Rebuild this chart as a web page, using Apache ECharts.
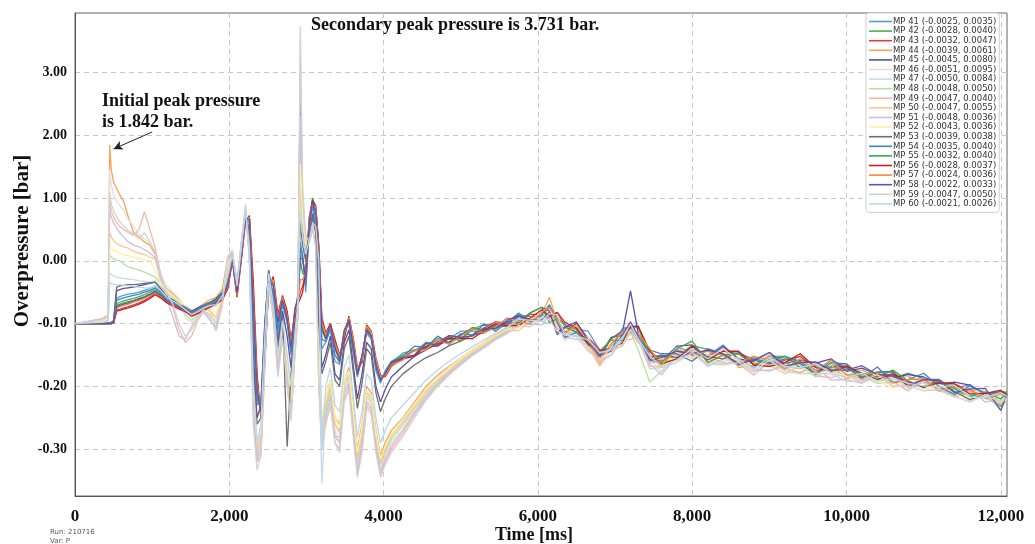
<!DOCTYPE html>
<html>
<head>
<meta charset="utf-8">
<script src="https://cdn.jsdelivr.net/npm/echarts@6/dist/echarts.min.js"></script>
<style>
  html, body { margin: 0; padding: 0; background: #fff; }
  #main { width: 1035px; height: 544px; }
</style>
</head>
<body>
<div id="main"></div>
<script>
// time stamps shared by every gauge (ms)
const timeMs = [
  0, 350, 430, 450, 470, 500, 540, 580, 630, 690, 760, 830, 900, 970, 1040, 1110, 1190, 1270, 1350, 1430, 1510, 1590, 1670, 1750, 1830, 1910, 1980,
  2040, 2100, 2160, 2210, 2260, 2310, 2360, 2410, 2460, 2510, 2570, 2630, 2690, 2750, 2800, 2850, 2890, 2920, 2950, 2990,
  3040, 3080, 3120, 3160, 3200, 3250, 3310, 3370, 3430, 3490, 3550, 3610, 3660, 3720, 3780, 3840, 3900, 3960, 4020, 4100,
  4250, 4400, 4550, 4700, 4850, 5000, 5150, 5300, 5450, 5600, 5750, 5900, 6050, 6150, 6250, 6350, 6500, 6650, 6800, 6950,
  7100, 7200, 7300, 7450, 7600, 7800, 8000, 8200, 8400, 8600, 8800, 9000, 9200, 9400, 9600, 9800, 10000, 10200, 10400, 10600,
  10800, 11000, 11200, 11400, 11600, 11800, 12000, 12080
];

const xTicks = [0, 2000, 4000, 6000, 8000, 10000, 12000];
// the original axis is stretched below zero: 0.1 bar per grid step there, 1 bar per step above
const yTicks = [3, 2, 1, 0, -0.1, -0.2, -0.3];

const gaugeNames = [
  'MP 41 (-0.0025, 0.0035)', 'MP 42 (-0.0028, 0.0040)', 'MP 43 (-0.0032, 0.0047)', 'MP 44 (-0.0039, 0.0061)',
  'MP 45 (-0.0045, 0.0080)', 'MP 46 (-0.0051, 0.0095)', 'MP 47 (-0.0050, 0.0084)', 'MP 48 (-0.0048, 0.0050)',
  'MP 49 (-0.0047, 0.0040)', 'MP 50 (-0.0047, 0.0055)', 'MP 51 (-0.0048, 0.0036)', 'MP 52 (-0.0043, 0.0036)',
  'MP 53 (-0.0039, 0.0038)', 'MP 54 (-0.0035, 0.0040)', 'MP 55 (-0.0032, 0.0040)', 'MP 56 (-0.0028, 0.0037)',
  'MP 57 (-0.0024, 0.0036)', 'MP 58 (-0.0022, 0.0033)', 'MP 59 (-0.0047, 0.0050)', 'MP 60 (-0.0021, 0.0026)'
];
const gaugeColors = [
  '#5b9bd5', '#4caf50', '#e0403a', '#f5a55a', '#5c4d9e', '#e6dfdf', '#c5dcee', '#b8e0a0', '#f4b8aa', '#fcc890',
  '#cdbde3', '#fff0a0', '#6e6e6e', '#3d85c6', '#3aa84a', '#c81e1e', '#f08c3a', '#6b4fa8', '#d2d2d2', '#b9d7ef'
];

// overpressure in bar
const mp41 = [
  -0.100, -0.100, -0.100, -0.100, -0.099, -0.097, -0.060, -0.057, -0.055, -0.053, -0.052, -0.050, -0.047, -0.044, -0.040, -0.048, -0.058, -0.064, -0.070, -0.074, -0.082, -0.077, -0.072, -0.067, -0.062, -0.052, -0.030,
  0.050, -0.045, 0.180, 0.750, 0.400, -0.130, -0.230, -0.220, -0.100, -0.020, -0.060, -0.120, -0.070, -0.100, -0.150, -0.085, -0.055, 0.300, 0.100, -0.050, 0.550, 0.880, 0.500, -0.050, -0.140, -0.130, -0.110, -0.160, -0.165, -0.115, -0.100, -0.150, -0.185, -0.155, -0.115, -0.125, -0.175, -0.195, -0.175, -0.160,
  -0.150, -0.144, -0.130, -0.132, -0.124, -0.112, -0.112, -0.113, -0.105, -0.092, -0.093, -0.097, -0.088, -0.075, -0.093, -0.120, -0.109, -0.112, -0.142, -0.139, -0.129, -0.107, -0.106, -0.150, -0.168, -0.137, -0.146, -0.151, -0.134, -0.158, -0.170, -0.152, -0.152, -0.163, -0.181, -0.166, -0.166, -0.186, -0.178, -0.178, -0.197, -0.200, -0.190, -0.203, -0.197, -0.215, -0.224, -0.212
];
const mp42 = [
  -0.100, -0.100, -0.100, -0.100, -0.100, -0.098, -0.068, -0.066, -0.064, -0.062, -0.060, -0.057, -0.054, -0.050, -0.046, -0.052, -0.062, -0.067, -0.072, -0.077, -0.085, -0.079, -0.074, -0.069, -0.064, -0.056, -0.035,
  0.030, -0.050, 0.120, 0.720, 0.620, -0.080, -0.210, -0.240, -0.130, -0.030, -0.040, -0.100, -0.060, -0.095, -0.140, -0.075, -0.060, 0.100, 0.050, -0.030, 0.650, 0.980, 0.800, 0.100, -0.110, -0.125, -0.100, -0.140, -0.160, -0.110, -0.095, -0.140, -0.180, -0.150, -0.110, -0.120, -0.165, -0.190, -0.180, -0.162,
  -0.147, -0.142, -0.137, -0.124, -0.125, -0.124, -0.110, -0.101, -0.103, -0.102, -0.086, -0.089, -0.091, -0.084, -0.084, -0.108, -0.113, -0.123, -0.152, -0.122, -0.117, -0.115, -0.117, -0.144, -0.158, -0.151, -0.135, -0.141, -0.150, -0.164, -0.154, -0.162, -0.163, -0.152, -0.169, -0.174, -0.183, -0.174, -0.187, -0.187, -0.179, -0.188, -0.206, -0.200, -0.216, -0.211, -0.232, -0.214
];
const mp43 = [
  -0.100, -0.100, -0.100, -0.100, -0.100, -0.099, -0.078, -0.077, -0.075, -0.073, -0.070, -0.067, -0.063, -0.058, -0.052, -0.057, -0.065, -0.070, -0.075, -0.079, -0.086, -0.082, -0.077, -0.072, -0.067, -0.060, -0.042,
  0.010, -0.055, 0.080, 0.650, 0.700, -0.050, -0.190, -0.250, -0.150, -0.040, -0.030, -0.090, -0.060, -0.085, -0.130, -0.085, -0.065, -0.050, -0.040, -0.020, 0.700, 0.950, 0.850, 0.200, -0.100, -0.120, -0.105, -0.130, -0.155, -0.120, -0.090, -0.130, -0.175, -0.160, -0.105, -0.115, -0.160, -0.185, -0.182, -0.165,
  -0.155, -0.142, -0.140, -0.129, -0.119, -0.122, -0.119, -0.107, -0.097, -0.100, -0.099, -0.085, -0.086, -0.090, -0.086, -0.102, -0.111, -0.122, -0.141, -0.142, -0.121, -0.101, -0.122, -0.152, -0.152, -0.154, -0.141, -0.156, -0.144, -0.148, -0.163, -0.168, -0.158, -0.152, -0.175, -0.168, -0.168, -0.189, -0.181, -0.184, -0.184, -0.194, -0.196, -0.196, -0.208, -0.214, -0.210, -0.211
];
const mp44 = [
  -0.100, -0.095, -0.088, 1.842, 1.450, 1.250, 1.150, 1.050, 0.950, 0.700, 0.450, 0.380, 0.300, 0.250, 0.100, -0.030, -0.045, -0.052, -0.062, -0.075, -0.082, -0.076, -0.068, -0.062, -0.058, -0.045, 0.060,
  0.150, -0.040, 0.350, 0.820, 0.150, -0.200, -0.300, -0.280, -0.140, -0.025, -0.070, -0.150, -0.100, -0.170, -0.220, -0.120, -0.070, 2.040, 0.900, 0.300, 0.400, 0.650, 0.300, -0.150, -0.250, -0.220, -0.190, -0.250, -0.260, -0.190, -0.170, -0.240, -0.300, -0.260, -0.200, -0.210, -0.270, -0.310, -0.290, -0.270,
  -0.250, -0.225, -0.200, -0.182, -0.168, -0.155, -0.142, -0.130, -0.118, -0.108, -0.100, -0.093, -0.084, -0.058, -0.098, -0.124, -0.099, -0.130, -0.166, -0.136, -0.109, -0.111, -0.130, -0.150, -0.170, -0.140, -0.152, -0.154, -0.138, -0.170, -0.166, -0.150, -0.172, -0.178, -0.167, -0.172, -0.188, -0.179, -0.185, -0.180, -0.201, -0.191, -0.202, -0.215, -0.206, -0.208, -0.222, -0.214
];
const mp45 = [
  -0.100, -0.100, -0.099, -0.099, -0.098, -0.096, -0.048, -0.046, -0.044, -0.043, -0.042, -0.040, -0.038, -0.036, -0.034, -0.044, -0.056, -0.062, -0.068, -0.072, -0.080, -0.075, -0.070, -0.066, -0.060, -0.050, -0.028,
  0.060, -0.045, 0.200, 0.780, 0.350, -0.150, -0.250, -0.230, -0.100, -0.015, -0.065, -0.130, -0.080, -0.120, -0.170, -0.100, -0.050, 3.000, 0.600, 0.050, 0.450, 0.750, 0.400, -0.080, -0.170, -0.150, -0.120, -0.180, -0.190, -0.130, -0.110, -0.170, -0.220, -0.180, -0.130, -0.140, -0.200, -0.225, -0.205, -0.185,
  -0.168, -0.152, -0.142, -0.132, -0.129, -0.118, -0.107, -0.110, -0.108, -0.098, -0.089, -0.093, -0.085, -0.072, -0.092, -0.114, -0.099, -0.124, -0.154, -0.124, -0.111, -0.048, -0.115, -0.154, -0.160, -0.136, -0.134, -0.154, -0.136, -0.156, -0.160, -0.146, -0.164, -0.158, -0.163, -0.156, -0.176, -0.171, -0.181, -0.186, -0.181, -0.185, -0.196, -0.193, -0.198, -0.213, -0.222, -0.214
];
const mp46 = [
  -0.100, -0.094, -0.090, 1.450, 1.200, 1.050, 0.950, 0.880, 0.800, 0.650, 0.550, 0.420, 0.350, 0.280, 0.150, -0.025, -0.040, -0.050, -0.060, -0.090, -0.100, -0.085, -0.070, -0.080, -0.095, -0.060, 0.080,
  0.120, -0.030, 0.300, 0.850, 0.100, -0.230, -0.320, -0.300, -0.160, -0.030, -0.080, -0.170, -0.110, -0.190, -0.230, -0.140, -0.080, 1.900, 0.800, 0.250, 0.350, 0.500, 0.250, -0.180, -0.280, -0.240, -0.210, -0.270, -0.290, -0.210, -0.190, -0.260, -0.330, -0.290, -0.220, -0.230, -0.290, -0.335, -0.310, -0.290,
  -0.268, -0.240, -0.215, -0.195, -0.178, -0.162, -0.148, -0.136, -0.122, -0.111, -0.101, -0.099, -0.090, -0.084, -0.104, -0.128, -0.109, -0.134, -0.156, -0.148, -0.125, -0.107, -0.128, -0.156, -0.178, -0.148, -0.150, -0.166, -0.148, -0.162, -0.178, -0.162, -0.174, -0.162, -0.185, -0.174, -0.178, -0.193, -0.183, -0.196, -0.191, -0.203, -0.207, -0.208, -0.223, -0.215, -0.224, -0.218
];
const mp47 = [
  -0.100, -0.097, -0.094, -0.020, -0.022, -0.024, -0.026, -0.027, -0.028, -0.029, -0.030, -0.032, -0.033, -0.034, -0.032, -0.040, -0.052, -0.058, -0.066, -0.076, -0.084, -0.080, -0.074, -0.070, -0.072, -0.055, -0.020,
  0.100, -0.035, 0.250, 0.800, 0.200, -0.200, -0.300, -0.270, -0.130, -0.020, -0.070, -0.160, -0.100, -0.160, -0.210, -0.120, -0.070, 3.550, 1.000, 0.300, 0.300, 0.550, 0.350, -0.150, -0.355, -0.230, -0.200, -0.260, -0.270, -0.190, -0.175, -0.250, -0.310, -0.270, -0.210, -0.215, -0.280, -0.320, -0.300, -0.280,
  -0.255, -0.230, -0.205, -0.186, -0.170, -0.156, -0.144, -0.132, -0.120, -0.110, -0.095, -0.097, -0.080, -0.074, -0.098, -0.122, -0.105, -0.132, -0.150, -0.140, -0.131, -0.103, -0.122, -0.162, -0.162, -0.138, -0.150, -0.156, -0.160, -0.154, -0.152, -0.164, -0.174, -0.162, -0.165, -0.176, -0.183, -0.177, -0.189, -0.190, -0.183, -0.195, -0.201, -0.214, -0.200, -0.215, -0.216, -0.214
];
const mp48 = [
  -0.100, -0.096, -0.092, 0.100, 0.060, 0.030, 0.010, 0.000, -0.005, -0.010, -0.012, -0.015, -0.018, -0.022, -0.026, -0.036, -0.050, -0.058, -0.068, -0.085, -0.095, -0.088, -0.080, -0.085, -0.100, -0.070, -0.010,
  0.080, -0.040, 0.280, 0.750, 0.150, -0.220, -0.310, -0.290, -0.140, -0.030, -0.080, -0.170, -0.110, -0.180, -0.240, -0.130, -0.075, 1.100, 0.600, 0.200, 0.350, 0.600, 0.300, -0.160, -0.270, -0.240, -0.200, -0.280, -0.280, -0.200, -0.185, -0.260, -0.320, -0.280, -0.215, -0.225, -0.285, -0.325, -0.305, -0.285,
  -0.262, -0.236, -0.212, -0.192, -0.176, -0.160, -0.146, -0.134, -0.122, -0.112, -0.103, -0.093, -0.096, -0.100, -0.094, -0.118, -0.119, -0.128, -0.148, -0.144, -0.135, -0.113, -0.142, -0.193, -0.176, -0.150, -0.140, -0.160, -0.164, -0.158, -0.172, -0.176, -0.164, -0.168, -0.185, -0.166, -0.186, -0.183, -0.195, -0.194, -0.191, -0.201, -0.200, -0.215, -0.212, -0.213, -0.238, -0.220
];
const mp49 = [
  -0.100, -0.092, -0.086, 0.950, 0.800, 0.700, 0.600, 0.550, 0.500, 0.450, 0.400, 0.500, 0.780, 0.500, 0.200, -0.020, -0.050, -0.075, -0.110, -0.130, -0.120, -0.095, -0.080, -0.090, -0.110, -0.070, 0.030,
  0.130, -0.035, 0.320, 0.800, 0.050, -0.240, -0.320, -0.310, -0.170, -0.040, -0.090, -0.180, -0.120, -0.200, -0.250, -0.150, -0.090, 1.400, 0.700, 0.250, 0.300, 0.500, 0.250, -0.200, -0.300, -0.260, -0.230, -0.290, -0.300, -0.220, -0.200, -0.280, -0.340, -0.300, -0.230, -0.240, -0.300, -0.340, -0.320, -0.300,
  -0.275, -0.245, -0.220, -0.198, -0.180, -0.165, -0.150, -0.138, -0.125, -0.115, -0.105, -0.095, -0.084, -0.092, -0.108, -0.114, -0.115, -0.140, -0.160, -0.134, -0.127, -0.125, -0.120, -0.162, -0.160, -0.158, -0.148, -0.152, -0.162, -0.164, -0.182, -0.160, -0.170, -0.160, -0.183, -0.186, -0.180, -0.189, -0.179, -0.200, -0.197, -0.187, -0.206, -0.217, -0.208, -0.219, -0.228, -0.216
];
const mp50 = [
  -0.100, -0.095, -0.090, 0.450, 0.380, 0.320, 0.280, 0.250, 0.220, 0.200, 0.150, 0.120, 0.100, 0.060, 0.020, -0.030, -0.045, -0.055, -0.065, -0.078, -0.090, -0.084, -0.076, -0.080, -0.090, -0.060, 0.000,
  0.090, -0.040, 0.260, 0.780, 0.180, -0.210, -0.300, -0.280, -0.150, -0.030, -0.075, -0.160, -0.105, -0.170, -0.230, -0.130, -0.075, 1.700, 0.750, 0.280, 0.380, 0.620, 0.320, -0.150, -0.260, -0.230, -0.195, -0.260, -0.275, -0.195, -0.180, -0.250, -0.315, -0.275, -0.210, -0.220, -0.280, -0.320, -0.300, -0.280,
  -0.258, -0.232, -0.208, -0.190, -0.174, -0.158, -0.145, -0.133, -0.121, -0.111, -0.111, -0.097, -0.086, -0.078, -0.102, -0.116, -0.103, -0.136, -0.168, -0.142, -0.119, -0.101, -0.126, -0.168, -0.168, -0.144, -0.156, -0.150, -0.152, -0.168, -0.162, -0.166, -0.180, -0.166, -0.165, -0.178, -0.183, -0.193, -0.185, -0.186, -0.203, -0.193, -0.190, -0.209, -0.222, -0.213, -0.226, -0.218
];
const mp51 = [
  -0.100, -0.093, -0.088, 0.800, 0.700, 0.600, 0.520, 0.450, 0.380, 0.300, 0.250, 0.220, 0.180, 0.120, 0.050, -0.028, -0.060, -0.090, -0.120, -0.125, -0.105, -0.090, -0.082, -0.095, -0.105, -0.065, 0.020,
  0.110, -0.040, 0.300, 0.820, 0.080, -0.230, -0.315, -0.300, -0.160, -0.035, -0.085, -0.175, -0.115, -0.190, -0.245, -0.145, -0.085, 2.300, 0.850, 0.300, 0.320, 0.520, 0.280, -0.170, -0.285, -0.250, -0.215, -0.280, -0.290, -0.210, -0.195, -0.270, -0.335, -0.290, -0.225, -0.235, -0.295, -0.335, -0.315, -0.295,
  -0.270, -0.242, -0.216, -0.196, -0.178, -0.163, -0.149, -0.137, -0.124, -0.114, -0.099, -0.101, -0.102, -0.086, -0.092, -0.122, -0.125, -0.128, -0.162, -0.150, -0.125, -0.117, -0.116, -0.164, -0.182, -0.152, -0.144, -0.168, -0.156, -0.156, -0.174, -0.174, -0.168, -0.172, -0.168, -0.190, -0.189, -0.195, -0.181, -0.192, -0.207, -0.189, -0.208, -0.209, -0.204, -0.225, -0.220, -0.220
];
const mp52 = [
  -0.100, -0.096, -0.092, 0.250, 0.200, 0.170, 0.140, 0.120, 0.100, 0.080, 0.060, 0.040, 0.020, 0.000, -0.015, -0.035, -0.048, -0.056, -0.064, -0.072, -0.082, -0.080, -0.074, -0.076, -0.082, -0.058, -0.005,
  0.080, -0.040, 0.240, 0.760, 0.200, -0.200, -0.290, -0.270, -0.140, -0.025, -0.070, -0.150, -0.100, -0.160, -0.220, -0.125, -0.070, 1.550, 0.700, 0.250, 0.400, 0.650, 0.350, -0.140, -0.250, -0.220, -0.190, -0.250, -0.265, -0.190, -0.175, -0.245, -0.305, -0.265, -0.205, -0.215, -0.275, -0.315, -0.295, -0.275,
  -0.252, -0.228, -0.204, -0.186, -0.170, -0.156, -0.143, -0.131, -0.119, -0.109, -0.109, -0.091, -0.092, -0.080, -0.086, -0.109, -0.115, -0.122, -0.156, -0.146, -0.121, -0.103, -0.124, -0.154, -0.156, -0.156, -0.146, -0.164, -0.146, -0.160, -0.172, -0.156, -0.156, -0.168, -0.180, -0.176, -0.184, -0.175, -0.190, -0.203, -0.191, -0.204, -0.197, -0.210, -0.221, -0.211, -0.222, -0.214
];
const mp53 = [
  -0.100, -0.100, -0.099, -0.099, -0.098, -0.095, -0.042, -0.040, -0.039, -0.038, -0.038, -0.037, -0.036, -0.035, -0.034, -0.045, -0.058, -0.064, -0.070, -0.074, -0.081, -0.077, -0.071, -0.066, -0.061, -0.052, -0.032,
  0.070, -0.040, 0.220, 0.800, 0.300, -0.170, -0.260, -0.250, -0.110, -0.015, -0.070, -0.140, -0.085, -0.296, -0.180, -0.105, -0.060, 0.600, 0.250, 0.000, 0.400, 0.700, 0.450, -0.100, -0.180, -0.160, -0.130, -0.190, -0.200, -0.140, -0.120, -0.180, -0.235, -0.195, -0.140, -0.150, -0.210, -0.240, -0.220, -0.200,
  -0.180, -0.166, -0.154, -0.146, -0.135, -0.128, -0.118, -0.115, -0.104, -0.097, -0.099, -0.083, -0.074, -0.080, -0.118, -0.105, -0.114, -0.132, -0.152, -0.122, -0.119, -0.101, -0.122, -0.154, -0.150, -0.154, -0.146, -0.152, -0.156, -0.146, -0.158, -0.164, -0.156, -0.164, -0.181, -0.162, -0.164, -0.185, -0.177, -0.176, -0.199, -0.189, -0.189, -0.208, -0.221, -0.212, -0.208, -0.210
];
const mp54 = [
  -0.100, -0.100, -0.100, -0.100, -0.099, -0.097, -0.063, -0.061, -0.059, -0.057, -0.055, -0.053, -0.050, -0.047, -0.043, -0.050, -0.060, -0.066, -0.071, -0.075, -0.083, -0.078, -0.073, -0.068, -0.063, -0.054, -0.033,
  0.040, -0.048, 0.150, 0.740, 0.500, -0.110, -0.220, -0.235, -0.115, -0.025, -0.050, -0.110, -0.065, -0.095, -0.145, -0.080, -0.058, 0.200, 0.080, -0.040, 0.600, 0.920, 0.650, 0.020, -0.125, -0.128, -0.105, -0.150, -0.162, -0.112, -0.098, -0.145, -0.182, -0.152, -0.112, -0.122, -0.170, -0.192, -0.178, -0.161,
  -0.152, -0.136, -0.138, -0.120, -0.131, -0.116, -0.118, -0.101, -0.112, -0.099, -0.083, -0.097, -0.086, -0.070, -0.098, -0.122, -0.114, -0.126, -0.144, -0.142, -0.107, -0.107, -0.126, -0.142, -0.148, -0.148, -0.160, -0.140, -0.148, -0.166, -0.156, -0.162, -0.152, -0.160, -0.179, -0.158, -0.170, -0.187, -0.169, -0.194, -0.189, -0.179, -0.200, -0.213, -0.199, -0.211, -0.210, -0.218
];
const mp55 = [
  -0.100, -0.100, -0.100, -0.100, -0.100, -0.098, -0.071, -0.069, -0.067, -0.065, -0.063, -0.060, -0.057, -0.053, -0.048, -0.054, -0.063, -0.068, -0.073, -0.078, -0.085, -0.080, -0.075, -0.070, -0.065, -0.058, -0.038,
  0.020, -0.052, 0.100, 0.690, 0.680, -0.060, -0.200, -0.245, -0.140, -0.035, -0.035, -0.095, -0.060, -0.090, -0.135, -0.080, -0.062, 0.000, -0.020, -0.025, 0.680, 1.000, 0.820, 0.150, -0.105, -0.122, -0.102, -0.135, -0.158, -0.115, -0.092, -0.135, -0.178, -0.155, -0.108, -0.118, -0.162, -0.188, -0.181, -0.163,
  -0.154, -0.150, -0.130, -0.134, -0.121, -0.128, -0.106, -0.111, -0.102, -0.105, -0.095, -0.083, -0.074, -0.098, -0.092, -0.102, -0.109, -0.134, -0.144, -0.126, -0.127, -0.105, -0.104, -0.158, -0.162, -0.140, -0.128, -0.162, -0.150, -0.148, -0.166, -0.156, -0.152, -0.170, -0.167, -0.170, -0.171, -0.181, -0.185, -0.174, -0.191, -0.202, -0.191, -0.204, -0.216, -0.209, -0.220, -0.208
];
const mp56 = [
  -0.100, -0.100, -0.100, -0.100, -0.100, -0.099, -0.080, -0.079, -0.077, -0.075, -0.072, -0.069, -0.065, -0.060, -0.054, -0.059, -0.067, -0.072, -0.077, -0.081, -0.088, -0.084, -0.079, -0.074, -0.069, -0.062, -0.045,
  0.000, -0.058, 0.060, 0.620, 0.720, -0.030, -0.180, -0.250, -0.160, -0.045, -0.025, -0.085, -0.055, -0.080, -0.125, -0.090, -0.068, -0.060, -0.050, -0.015, 0.720, 0.960, 0.880, 0.250, -0.090, -0.115, -0.100, -0.125, -0.150, -0.125, -0.088, -0.125, -0.170, -0.162, -0.102, -0.112, -0.155, -0.182, -0.185, -0.168,
  -0.156, -0.152, -0.136, -0.136, -0.123, -0.124, -0.124, -0.111, -0.100, -0.103, -0.103, -0.091, -0.078, -0.088, -0.082, -0.098, -0.107, -0.132, -0.144, -0.140, -0.131, -0.105, -0.104, -0.144, -0.164, -0.156, -0.136, -0.158, -0.144, -0.144, -0.166, -0.168, -0.162, -0.148, -0.170, -0.176, -0.168, -0.179, -0.189, -0.180, -0.193, -0.201, -0.194, -0.196, -0.212, -0.211, -0.206, -0.214
];
const mp57 = [
  -0.100, -0.100, -0.100, -0.100, -0.100, -0.098, -0.075, -0.073, -0.071, -0.069, -0.066, -0.063, -0.060, -0.056, -0.050, -0.056, -0.064, -0.069, -0.074, -0.078, -0.085, -0.081, -0.076, -0.071, -0.066, -0.059, -0.040,
  0.015, -0.055, 0.090, 0.680, 0.690, -0.055, -0.195, -0.245, -0.145, -0.040, -0.030, -0.092, -0.058, -0.088, -0.130, -0.082, -0.064, -0.030, -0.030, -0.020, 0.750, 0.900, 0.860, 0.180, -0.098, -0.118, -0.104, -0.132, -0.152, -0.118, -0.090, -0.128, -0.172, -0.158, -0.104, -0.114, -0.158, -0.184, -0.183, -0.166,
  -0.158, -0.142, -0.142, -0.126, -0.133, -0.120, -0.108, -0.115, -0.106, -0.091, -0.097, -0.101, -0.082, -0.074, -0.094, -0.116, -0.101, -0.126, -0.158, -0.132, -0.113, -0.113, -0.116, -0.140, -0.166, -0.142, -0.150, -0.144, -0.150, -0.162, -0.152, -0.158, -0.172, -0.156, -0.175, -0.158, -0.182, -0.181, -0.178, -0.194, -0.189, -0.188, -0.207, -0.201, -0.205, -0.219, -0.212, -0.214
];
const mp58 = [
  -0.100, -0.100, -0.100, -0.100, -0.100, -0.098, -0.073, -0.071, -0.069, -0.067, -0.064, -0.061, -0.058, -0.054, -0.049, -0.055, -0.064, -0.069, -0.074, -0.078, -0.086, -0.081, -0.076, -0.071, -0.066, -0.058, -0.038,
  0.025, -0.052, 0.110, 0.700, 0.660, -0.070, -0.205, -0.242, -0.135, -0.032, -0.038, -0.098, -0.062, -0.092, -0.138, -0.078, -0.060, 0.050, 0.020, -0.028, 0.660, 0.940, 0.780, 0.120, -0.108, -0.124, -0.102, -0.138, -0.158, -0.112, -0.094, -0.138, -0.180, -0.152, -0.110, -0.120, -0.165, -0.190, -0.180, -0.162,
  -0.154, -0.150, -0.132, -0.134, -0.119, -0.122, -0.120, -0.107, -0.108, -0.095, -0.087, -0.095, -0.094, -0.082, -0.114, -0.106, -0.097, -0.128, -0.150, -0.144, -0.117, -0.097, -0.120, -0.158, -0.154, -0.144, -0.148, -0.142, -0.148, -0.164, -0.158, -0.146, -0.168, -0.162, -0.161, -0.174, -0.174, -0.167, -0.181, -0.182, -0.199, -0.189, -0.191, -0.210, -0.204, -0.203, -0.238, -0.212
];
const mp59 = [
  -0.100, -0.094, -0.089, 1.100, 0.900, 0.800, 0.700, 0.620, 0.560, 0.480, 0.420, 0.350, 0.450, 0.300, 0.120, -0.025, -0.050, -0.070, -0.100, -0.120, -0.110, -0.090, -0.078, -0.092, -0.112, -0.068, 0.060,
  0.170, -0.035, 0.330, 0.900, 0.080, -0.260, -0.333, -0.310, -0.170, -0.035, -0.090, -0.185, -0.125, -0.200, -0.255, -0.150, -0.085, 3.731, 1.200, 0.400, 0.300, 0.550, 0.200, -0.200, -0.300, -0.255, -0.225, -0.290, -0.305, -0.225, -0.205, -0.285, -0.345, -0.305, -0.235, -0.245, -0.305, -0.345, -0.325, -0.305,
  -0.280, -0.250, -0.222, -0.200, -0.182, -0.166, -0.151, -0.139, -0.126, -0.116, -0.103, -0.105, -0.090, -0.094, -0.112, -0.118, -0.121, -0.144, -0.158, -0.138, -0.133, -0.109, -0.126, -0.172, -0.170, -0.162, -0.146, -0.164, -0.166, -0.162, -0.176, -0.158, -0.176, -0.180, -0.179, -0.180, -0.192, -0.191, -0.181, -0.200, -0.199, -0.207, -0.205, -0.216, -0.225, -0.213, -0.226, -0.218
];
const mp60 = [
  -0.100, -0.098, -0.096, -0.035, -0.036, -0.037, -0.038, -0.038, -0.039, -0.040, -0.041, -0.042, -0.043, -0.043, -0.040, -0.047, -0.058, -0.064, -0.070, -0.078, -0.086, -0.081, -0.075, -0.071, -0.070, -0.056, -0.025,
  0.090, -0.040, 0.230, 0.780, 0.250, -0.190, -0.290, -0.260, -0.120, -0.020, -0.070, -0.150, -0.095, -0.150, -0.200, -0.115, -0.065, 0.800, 0.400, 0.100, 0.350, 0.600, 0.550, 0.000, -0.300, -0.200, -0.170, -0.230, -0.240, -0.170, -0.150, -0.220, -0.280, -0.240, -0.180, -0.190, -0.250, -0.290, -0.270, -0.250,
  -0.230, -0.210, -0.190, -0.174, -0.160, -0.148, -0.137, -0.126, -0.115, -0.106, -0.093, -0.095, -0.096, -0.084, -0.086, -0.118, -0.119, -0.126, -0.146, -0.142, -0.121, -0.101, -0.124, -0.152, -0.168, -0.158, -0.140, -0.156, -0.140, -0.158, -0.172, -0.154, -0.168, -0.170, -0.165, -0.178, -0.186, -0.179, -0.192, -0.187, -0.195, -0.199, -0.201, -0.198, -0.217, -0.218, -0.210, -0.216
];

const gaugeValues = [mp41, mp42, mp43, mp44, mp45, mp46, mp47, mp48, mp49, mp50,
                     mp51, mp52, mp53, mp54, mp55, mp56, mp57, mp58, mp59, mp60];

// bar -> axis position (negative part stretched x10, as in the original plot)
function toAxis(v) { return v < 0 ? v * 10 : v; }
function fromAxis(a) { return a < 0 ? a / 10 : a; }

const serifFont = '"Liberation Serif", "DejaVu Serif", serif';

let chart = echarts.init(document.getElementById('main'));

let series = gaugeNames.map(function (name, k) {
    let vals = gaugeValues[k];
    let s = {
        name: name,
        type: 'line',
        showSymbol: false,
        symbol: 'none',
        color: gaugeColors[k],
        lineStyle: { width: 1.3 },
        data: timeMs.map(function (t, i) { return [t, toAxis(vals[i])]; })
    };
    if (k === 3) {
        // arrow pointing at the first peak
        s.markLine = {
            silent: true,
            symbol: ['none', 'arrow'],
            symbolSize: [7, 9],
            label: { show: false },
            lineStyle: { color: '#222', width: 1, type: 'solid' },
            data: [[{ coord: [1000, 2.05] }, { coord: [500, 1.78] }]]
        };
    }
    return s;
});

let option = {
    animation: false,
    backgroundColor: '#fff',
    grid: {
        left: 75, right: 28, top: 13, bottom: 48,
        show: true, borderColor: '#666', borderWidth: 1
    },
    legend: {
        orient: 'vertical',
        left: 866, top: 13,
        padding: [4, 3, 4, 3],
        backgroundColor: '#fff',
        borderColor: '#cfcfcf', borderWidth: 1, borderRadius: 3,
        icon: 'rect', itemWidth: 23, itemHeight: 1.6, itemGap: 0.6,
        textStyle: { fontFamily: 'DejaVu Sans', fontSize: 8.5, color: '#333', lineHeight: 8, padding: [0, 0, 0, -4] },
        data: gaugeNames
    },
    xAxis: {
        type: 'value', min: 0, max: 12080,
        axisLine: { show: true, onZero: false, lineStyle: { color: '#555' } },
        axisTick: { show: false, customValues: xTicks },
        axisLabel: {
            customValues: xTicks, margin: 12,
            fontFamily: serifFont, fontWeight: 'bold', fontSize: 17, color: '#111',
            formatter: function (v) { return v.toLocaleString('en-US'); }
        },
        splitLine: { show: true, lineStyle: { color: '#c8c8c8', type: [5, 4] } }
    },
    yAxis: {
        type: 'value', min: -3.744, max: 3.944,
        axisLine: { show: true, lineStyle: { color: '#555' } },
        axisTick: { show: false, customValues: yTicks.map(toAxis) },
        axisLabel: {
            customValues: yTicks.map(toAxis), margin: 8,
            fontFamily: serifFont, fontWeight: 'bold', fontSize: 14, color: '#111',
            formatter: function (v) { return fromAxis(v).toFixed(2); }
        },
        splitLine: { show: true, lineStyle: { color: '#c8c8c8', type: [5, 4] } }
    },
    graphic: [
        { type: 'text', x: 534, y: 535, z: 100,
          style: { text: 'Time [ms]', fill: '#111', textAlign: 'center', textVerticalAlign: 'middle',
                   font: 'bold 18px "Liberation Serif", serif' } },
        { type: 'text', x: 23, y: 241, rotation: Math.PI / 2, z: 100,
          style: { text: 'Overpressure [bar]', fill: '#111', textAlign: 'center', textVerticalAlign: 'middle',
                   font: 'bold 21px "Liberation Serif", serif' } },
        { type: 'text', left: 102, top: 91, z: 100,
          style: { text: 'Initial peak pressure\nis 1.842 bar.', fill: '#111', lineHeight: 21,
                   font: 'bold 18px "Liberation Serif", serif' } },
        { type: 'text', left: 311, top: 16, z: 100,
          style: { text: 'Secondary peak pressure is 3.731 bar.', fill: '#111',
                   font: 'bold 18px "Liberation Serif", serif' } },
        { type: 'text', left: 50, top: 529,
          style: { text: 'Run: 210716', fill: '#555', font: '7px "DejaVu Sans", sans-serif' } },
        { type: 'text', left: 50, top: 538,
          style: { text: 'Var: P', fill: '#555', font: '7px "DejaVu Sans", sans-serif' } }
    ],
    series: series
};

chart.setOption(option);
</script>
</body>
</html>
